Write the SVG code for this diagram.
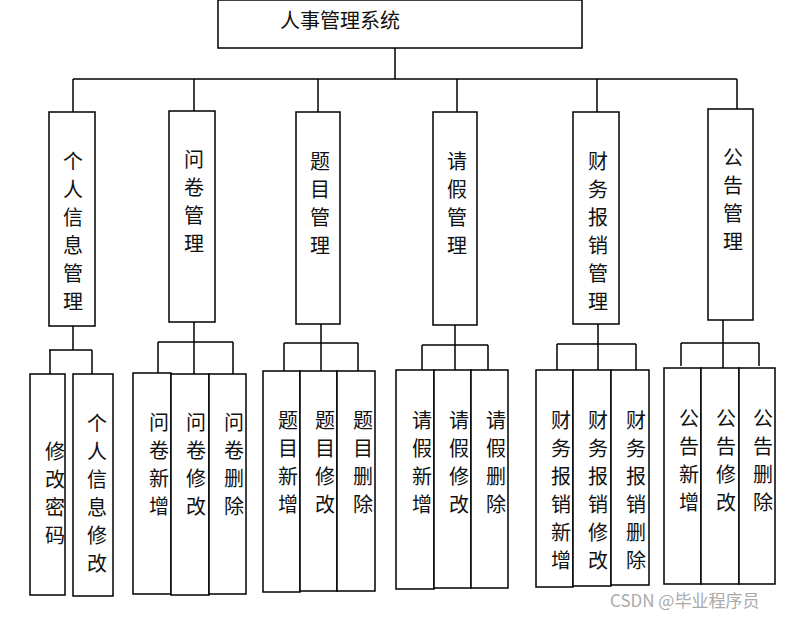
<svg xmlns="http://www.w3.org/2000/svg" width="797" height="619" viewBox="0 0 797 619">
<style>
rect{fill:#fff;stroke:#000;stroke-width:1.5}
.c line{stroke:#000;stroke-width:1.5}
text{font-family:"Noto Sans CJK SC",sans-serif;font-size:20px;fill:#111;text-anchor:middle}
.wm{font-size:17px;fill:#aaa;text-anchor:start}
</style>
<rect width="797" height="619" style="stroke:none"/>
<g class="c">
<line x1="395" y1="48" x2="395" y2="79"/><line x1="73" y1="79" x2="737" y2="79"/>
<line x1="73" y1="79" x2="73" y2="112"/><line x1="194" y1="79" x2="194" y2="111"/><line x1="318" y1="79" x2="318" y2="112"/>
<line x1="457" y1="79" x2="457" y2="112"/><line x1="597" y1="79" x2="597" y2="112"/><line x1="737" y1="79" x2="737" y2="109"/>
<line x1="73" y1="326" x2="73" y2="350"/><line x1="49" y1="350" x2="92" y2="350"/><line x1="50" y1="350" x2="50" y2="374"/><line x1="92" y1="350" x2="92" y2="374"/>
<line x1="194" y1="322" x2="194" y2="374"/><line x1="158" y1="342" x2="233" y2="342"/><line x1="158" y1="342" x2="158" y2="373"/><line x1="233" y1="342" x2="233" y2="374"/>
<line x1="321" y1="324" x2="321" y2="371"/><line x1="284" y1="343" x2="358" y2="343"/><line x1="284" y1="343" x2="284" y2="371"/><line x1="358" y1="343" x2="358" y2="371"/>
<line x1="455" y1="325" x2="455" y2="370"/><line x1="422" y1="345" x2="488" y2="345"/><line x1="422" y1="345" x2="422" y2="370"/><line x1="488" y1="345" x2="488" y2="370"/>
<line x1="598" y1="324" x2="598" y2="370"/><line x1="557" y1="344" x2="636" y2="344"/><line x1="557" y1="344" x2="557" y2="370"/><line x1="636" y1="344" x2="636" y2="370"/>
<line x1="723" y1="320" x2="723" y2="368"/><line x1="681" y1="343" x2="759" y2="343"/><line x1="681" y1="343" x2="681" y2="366"/><line x1="759" y1="343" x2="759" y2="366"/>
</g>
<g id="root"><rect x="218" y="0" width="364" height="48"/><text x="340" y="28">人事管理系统</text></g>
<g id="n1"><rect x="49" y="112" width="46" height="214"/><text x="73"><tspan x="73" y="169">个</tspan><tspan x="73" y="197">人</tspan><tspan x="73" y="225">信</tspan><tspan x="73" y="253">息</tspan><tspan x="73" y="281">管</tspan><tspan x="73" y="309">理</tspan></text></g>
<g id="n2"><rect x="169" y="111" width="46" height="211"/><text><tspan x="194" y="167">问</tspan><tspan x="194" y="195">卷</tspan><tspan x="194" y="223">管</tspan><tspan x="194" y="251">理</tspan></text></g>
<g id="n3"><rect x="296" y="112" width="44" height="212"/><text><tspan x="320" y="169">题</tspan><tspan x="320" y="197">目</tspan><tspan x="320" y="225">管</tspan><tspan x="320" y="253">理</tspan></text></g>
<g id="n4"><rect x="433" y="112" width="44" height="213"/><text><tspan x="457" y="169">请</tspan><tspan x="457" y="197">假</tspan><tspan x="457" y="225">管</tspan><tspan x="457" y="253">理</tspan></text></g>
<g id="n5"><rect x="573" y="112" width="46" height="212"/><text><tspan x="598" y="169">财</tspan><tspan x="598" y="197">务</tspan><tspan x="598" y="225">报</tspan><tspan x="598" y="253">销</tspan><tspan x="598" y="281">管</tspan><tspan x="598" y="309">理</tspan></text></g>
<g id="n6"><rect x="708" y="109" width="45" height="211"/><text><tspan x="733" y="165">公</tspan><tspan x="733" y="193">告</tspan><tspan x="733" y="221">管</tspan><tspan x="733" y="249">理</tspan></text></g>
<g id="a1"><rect x="30" y="374" width="35" height="221"/><text><tspan x="55" y="459">修</tspan><tspan x="55" y="487">改</tspan><tspan x="55" y="515">密</tspan><tspan x="55" y="543">码</tspan></text></g>
<g id="a2"><rect x="73" y="374" width="40" height="222"/><text><tspan x="97" y="431">个</tspan><tspan x="97" y="459">人</tspan><tspan x="97" y="487">信</tspan><tspan x="97" y="515">息</tspan><tspan x="97" y="543">修</tspan><tspan x="97" y="571">改</tspan></text></g>
<g id="b1"><rect x="133" y="373" width="38" height="221"/><text><tspan x="159" y="430">问</tspan><tspan x="159" y="458">卷</tspan><tspan x="159" y="486">新</tspan><tspan x="159" y="514">增</tspan></text></g>
<g id="b2"><rect x="171" y="374" width="38" height="221"/><text><tspan x="196" y="430">问</tspan><tspan x="196" y="458">卷</tspan><tspan x="196" y="486">修</tspan><tspan x="196" y="514">改</tspan></text></g>
<g id="b3"><rect x="209" y="374" width="37" height="220"/><text><tspan x="234" y="430">问</tspan><tspan x="234" y="458">卷</tspan><tspan x="234" y="486">删</tspan><tspan x="234" y="514">除</tspan></text></g>
<g id="c1"><rect x="263" y="371" width="37" height="221"/><text><tspan x="288" y="428">题</tspan><tspan x="288" y="456">目</tspan><tspan x="288" y="484">新</tspan><tspan x="288" y="512">增</tspan></text></g>
<g id="c2"><rect x="300" y="371" width="37" height="220"/><text><tspan x="325" y="428">题</tspan><tspan x="325" y="456">目</tspan><tspan x="325" y="484">修</tspan><tspan x="325" y="512">改</tspan></text></g>
<g id="c3"><rect x="337" y="371" width="38" height="220"/><text><tspan x="363" y="428">题</tspan><tspan x="363" y="456">目</tspan><tspan x="363" y="484">删</tspan><tspan x="363" y="512">除</tspan></text></g>
<g id="d1"><rect x="396" y="370" width="38" height="219"/><text><tspan x="422" y="428">请</tspan><tspan x="422" y="456">假</tspan><tspan x="422" y="484">新</tspan><tspan x="422" y="512">增</tspan></text></g>
<g id="d2"><rect x="434" y="370" width="37" height="218"/><text><tspan x="459" y="428">请</tspan><tspan x="459" y="456">假</tspan><tspan x="459" y="484">修</tspan><tspan x="459" y="512">改</tspan></text></g>
<g id="d3"><rect x="471" y="370" width="37" height="218"/><text><tspan x="496" y="428">请</tspan><tspan x="496" y="456">假</tspan><tspan x="496" y="484">删</tspan><tspan x="496" y="512">除</tspan></text></g>
<g id="e1"><rect x="536" y="370" width="37" height="217"/><text><tspan x="561" y="428">财</tspan><tspan x="561" y="456">务</tspan><tspan x="561" y="484">报</tspan><tspan x="561" y="512">销</tspan><tspan x="561" y="540">新</tspan><tspan x="561" y="568">增</tspan></text></g>
<g id="e2"><rect x="573" y="370" width="38" height="216"/><text><tspan x="598" y="428">财</tspan><tspan x="598" y="456">务</tspan><tspan x="598" y="484">报</tspan><tspan x="598" y="512">销</tspan><tspan x="598" y="540">修</tspan><tspan x="598" y="568">改</tspan></text></g>
<g id="e3"><rect x="611" y="370" width="38" height="215"/><text><tspan x="636" y="428">财</tspan><tspan x="636" y="456">务</tspan><tspan x="636" y="484">报</tspan><tspan x="636" y="512">销</tspan><tspan x="636" y="540">删</tspan><tspan x="636" y="568">除</tspan></text></g>
<g id="f1"><rect x="664" y="368" width="37" height="216"/><text><tspan x="689" y="426">公</tspan><tspan x="689" y="454">告</tspan><tspan x="689" y="482">新</tspan><tspan x="689" y="510">增</tspan></text></g>
<g id="f2"><rect x="701" y="368" width="38" height="216"/><text><tspan x="726" y="426">公</tspan><tspan x="726" y="454">告</tspan><tspan x="726" y="482">修</tspan><tspan x="726" y="510">改</tspan></text></g>
<g id="f3"><rect x="739" y="368" width="36" height="216"/><text><tspan x="763" y="426">公</tspan><tspan x="763" y="454">告</tspan><tspan x="763" y="482">删</tspan><tspan x="763" y="510">除</tspan></text></g>
<text class="wm" x="610" y="607">CSDN @毕业程序员</text>
</svg>
